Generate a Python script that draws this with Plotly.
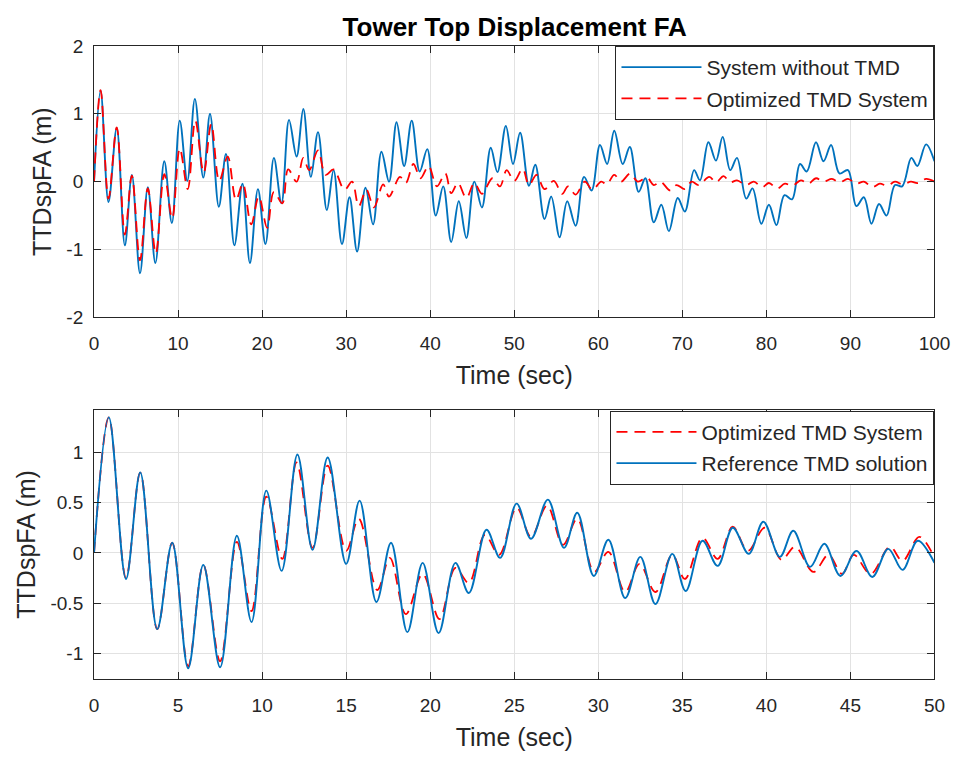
import plotly.graph_objects as go

# ---------------- data (local extrema of each signal) ----------------
top_t_noTMD = [0, 0.78, 1.72, 2.70, 3.67, 4.50, 5.47, 6.40, 7.30, 8.36, 9.26, 10.2, 11.1, 12.0, 13.0, 13.8,
               14.85, 15.7, 16.7, 17.66, 18.55, 19.5, 20.4, 21.4, 22.3, 23.2, 24.1, 24.9, 25.8, 26.65, 27.7,
               28.5, 29.5, 30.4, 31.3, 32.3, 33.2, 34.2, 35.1, 36.0, 36.9, 37.8, 38.75, 39.65, 40.66, 41.55,
               42.5, 43.4, 44.3, 45.25, 46.15, 47.2, 48.0, 49.0, 49.85, 50.7, 51.75, 52.5, 53.6, 54.4, 55.4,
               56.3, 57.3, 58.3, 59.2, 60.2, 61.05, 61.9, 62.9, 63.75, 64.8, 65.6, 66.6, 67.5, 68.4, 69.45,
               70.3, 71.4, 72.1, 73.1, 74.0, 74.8, 75.7, 76.5, 77.6, 78.35, 79.4, 80.3, 81.2, 82.15, 83.05,
               84.0, 84.8, 85.9, 86.8, 87.7, 88.7, 89.7, 90.7, 91.6, 92.5, 93.4, 94.3, 95.3, 96.15, 97.25,
               97.96, 99.0, 100]
top_y_noTMD = [0.0, 1.34, -0.30, 0.79, -0.94, 0.10, -1.35, -0.08, -1.20, 0.30, -0.61, 0.90, 0.01, 1.22, 0.06, 1.00,
               -0.37, 0.41, -0.94, -0.03, -1.20, -0.11, -0.92, 0.35, -0.32, 0.91, 0.37, 1.07, 0.07, 0.73, -0.42,
               0.17, -0.92, -0.23, -1.03, -0.09, -0.63, 0.44, 0.00, 0.875, 0.23, 0.90, 0.15, 0.48, -0.50, -0.07,
               -0.89, -0.29, -0.83, 0.00, -0.38, 0.50, 0.14, 0.82, 0.26, 0.72, -0.06, 0.25, -0.55, -0.22, -0.82,
               -0.29, -0.65, 0.07, -0.13, 0.54, 0.26, 0.75, 0.26, 0.51, -0.15, 0.05, -0.60, -0.34, -0.73, -0.24,
               -0.44, 0.17, 0.02, 0.58, 0.31, 0.66, 0.17, 0.35, -0.25, -0.10, -0.62, -0.34, -0.64, -0.20, -0.26,
               0.26, 0.15, 0.58, 0.30, 0.54, 0.12, 0.17, -0.36, -0.23, -0.62, -0.33, -0.50, -0.05, -0.07, 0.35,
               0.23, 0.55, 0.30]

top_t_opt = [0, 0.78, 1.72, 2.70, 3.67, 4.50, 5.47, 6.40, 7.35, 8.36, 9.3, 10.2, 11.15, 12.05, 13.05, 13.95,
             14.9, 15.9, 16.9, 17.7, 18.7, 19.6, 20.6, 21.4, 22.4, 23.1, 24.1, 24.9, 25.6, 26.65, 27.55, 28.5,
             29.8, 30.7, 31.5, 32.4, 33.3, 34.4, 35.1, 36.4, 37.1, 38.0, 38.85, 39.8, 40.8, 41.8, 42.5, 43.3,
             44.3, 45.25, 46.15, 47.4, 48.3, 49.1, 50.0, 51.0, 51.75, 52.65, 53.6, 54.7, 55.7, 56.4, 57.3,
             58.4, 59.3, 60.35, 61.0, 61.9, 62.7, 63.8, 64.7, 65.8, 66.6, 67.4, 68.55, 69.3, 70.3, 71.1,
             71.95, 73.2, 74.0, 74.9, 75.7, 76.5, 77.6, 78.5, 79.5, 80.3, 81.3, 82.2, 83.1, 84.1, 85.0, 85.9,
             86.8, 87.8, 88.7, 89.7, 90.7, 91.6, 92.6, 93.5, 94.4, 95.3, 96.2, 97.2, 98.0, 99.0, 100]
top_y_opt = [0.0, 1.35, -0.25, 0.80, -0.78, 0.09, -1.16, -0.10, -1.06, 0.11, -0.54, 0.49, -0.11, 0.90, 0.13, 0.85,
             0.01, 0.37, -0.27, -0.03, -0.63, -0.22, -0.68, -0.15, -0.32, 0.18, 0.00, 0.35, 0.17, 0.46, 0.10, 0.18,
             -0.12, 0.00, -0.36, -0.12, -0.38, -0.04, -0.22, 0.07, -0.02, 0.26, 0.05, 0.23, -0.07, 0.12, -0.17, -0.02,
             -0.24, -0.02, -0.18, 0.05, -0.07, 0.17, 0.01, 0.19, -0.05, 0.10, -0.11, 0.01, -0.18, -0.07, -0.19,
             0.00, -0.12, 0.00, -0.04, 0.10, 0.00, 0.12, 0.00, 0.06, -0.05, 0.00, -0.13, -0.05, -0.11, 0.00,
             -0.05, 0.07, -0.01, 0.08, -0.01, 0.02, -0.05, 0.00, -0.08, -0.02, -0.10, -0.03, -0.06, 0.02, -0.03, 0.05,
             0.00, 0.04, -0.01, 0.04, -0.03, 0.00, -0.08, -0.03, -0.06, 0.00, -0.04, 0.00, -0.02, 0.04, 0.00]

bot_t_ref = [0, 0.88, 1.9, 2.75, 3.76, 4.65, 5.6, 6.5, 7.5, 8.5, 9.37, 10.25, 11.16, 12.1, 13.0, 13.9, 15.0,
             15.8, 16.8, 17.67, 18.64, 19.55, 20.5, 21.5, 22.3, 23.35, 24.16, 25.14, 26.0, 27.0, 27.96, 28.75,
             29.73, 30.6, 31.6, 32.5, 33.4, 34.4, 35.2, 36.2, 37.1, 38.0, 38.95, 39.82, 40.8, 41.6, 42.6, 43.45,
             44.4, 45.36, 46.3, 47.25, 48.1, 49.0, 50]
bot_y_ref = [0.0, 1.35, -0.26, 0.80, -0.76, 0.10, -1.15, -0.12, -1.14, 0.17, -0.69, 0.62, -0.18, 0.98, 0.03, 0.95, -0.11,
             0.52, -0.49, 0.10, -0.79, -0.10, -0.80, -0.10, -0.40, 0.23, -0.05, 0.49, 0.14, 0.53, 0.05, 0.40,
             -0.23, 0.13, -0.45, -0.04, -0.51, -0.01, -0.38, 0.12, -0.13, 0.25, -0.01, 0.31, -0.04, 0.22, -0.14, 0.09,
             -0.23, 0.02, -0.24, 0.04, -0.17, 0.12, -0.10]

bot_t_opt = [0, 0.88, 1.9, 2.75, 3.76, 4.65, 5.6, 6.5, 7.5, 8.5, 9.37, 10.25, 11.2, 12.05, 13.0, 13.9, 15.0,
             15.75, 16.85, 17.6, 18.55, 19.55, 20.55, 21.5, 22.3, 23.25, 24.1, 25.14, 26.0, 26.95, 27.9, 28.75,
             29.75, 30.6, 31.6, 32.45, 33.4, 34.4, 35.15, 36.2, 37.1, 38.0, 38.9, 39.9, 40.9, 41.7, 42.8, 43.7,
             44.5, 45.2, 46.2, 47.35, 48.1, 49.1, 50]
bot_y_opt = [0.0, 1.35, -0.25, 0.80, -0.76, 0.10, -1.13, -0.12, -1.08, 0.11, -0.58, 0.56, -0.06, 0.90, 0.05, 0.87, 0.02,
             0.34, -0.37, -0.05, -0.61, -0.21, -0.66, -0.15, -0.30, 0.18, -0.02, 0.45, 0.16, 0.47, 0.08, 0.34,
             -0.19, 0.01, -0.39, -0.11, -0.39, -0.02, -0.26, 0.15, -0.06, 0.26, 0.02, 0.25, -0.07, 0.06, -0.19, -0.02,
             -0.21, -0.02, -0.21, 0.06, -0.08, 0.16, -0.05]

top_xticks = [0, 10, 20, 30, 40, 50, 60, 70, 80, 90, 100]
top_yticks = [-2, -1, 0, 1, 2]
top_yticklabels = ["-2", "-1", "0", "1", "2"]
bot_xticks = [0, 5, 10, 15, 20, 25, 30, 35, 40, 45, 50]
bot_yticks = [-1, -0.5, 0, 0.5, 1]
bot_yticklabels = ["-1", "-0.5", "0", "0.5", "1"]

title_text = "Tower Top Displacement FA"
xlabel = "Time (sec)"
ylabel = "TTDspFA (m)"

# ---------------- styling ----------------
W, H = 972, 765
FONT = "Liberation Sans, Arial, Helvetica, sans-serif"
TXT = "#262626"
BLUE = "#0072BD"
RED = "#FF0000"
GRID = "#e2e2e2"
DASH = "11px,7px"


def px_x(p):
    return p / W


def px_y(p):
    return 1 - p / H


fig = go.Figure()
fig.add_trace(go.Scatter(x=top_t_noTMD, y=top_y_noTMD, mode="lines", name="System without TMD",
                         line=dict(color=BLUE, width=1.9, shape="spline", smoothing=1.0),
                         xaxis="x", yaxis="y", legend="legend", legendgroup="a"))
fig.add_trace(go.Scatter(x=top_t_opt, y=top_y_opt, mode="lines", name="Optimized TMD System",
                         line=dict(color=RED, width=1.8, dash=DASH, shape="spline", smoothing=1.0),
                         xaxis="x", yaxis="y", legend="legend", legendgroup="b"))
fig.add_trace(go.Scatter(x=bot_t_opt, y=bot_y_opt, mode="lines", name="Optimized TMD System",
                         line=dict(color=RED, width=1.8, dash=DASH, shape="spline", smoothing=1.0),
                         xaxis="x2", yaxis="y2", legend="legend2", legendgroup="c"))
fig.add_trace(go.Scatter(x=bot_t_ref, y=bot_y_ref, mode="lines", name="Reference TMD solution",
                         line=dict(color=BLUE, width=1.9, shape="spline", smoothing=1.0),
                         xaxis="x2", yaxis="y2", legend="legend2", legendgroup="d"))

axis_common = dict(showline=True, linecolor=TXT, linewidth=1, mirror="ticks", ticks="inside",
                   ticklen=7, tickcolor=TXT, showgrid=True, gridcolor=GRID, gridwidth=1,
                   zeroline=False, tickfont=dict(family=FONT, size=19, color=TXT))

LABEL_FONT = dict(family=FONT, size=25, color=TXT)
xd = [px_x(91), px_x(950)]
leg_common = dict(xanchor="right", yanchor="top", bgcolor="white", bordercolor=TXT, borderwidth=1,
                  font=dict(family=FONT, size=21, color=TXT), itemwidth=80, tracegroupgap=1)

fig.update_layout(
    width=W, height=H, autosize=False,
    margin=dict(l=0, r=0, t=0, b=0),
    paper_bgcolor="white", plot_bgcolor="white",
    font=dict(family=FONT, color=TXT),
    title=dict(text="<b>" + title_text + "</b>", x=px_x(521), xanchor="center", xref="paper",
               y=px_y(17), yanchor="middle", yref="paper",
               font=dict(family=FONT, size=26, color="#000000")),
    xaxis=dict(domain=xd, anchor="y", range=[0, 100], tickvals=top_xticks, ticklabelstandoff=9,
               title=dict(text=xlabel, font=LABEL_FONT, standoff=13), **axis_common),
    yaxis=dict(domain=[px_y(316), px_y(37)], anchor="x", range=[-2, 2], tickvals=top_yticks,
               ticktext=top_yticklabels, ticklabelstandoff=6,
               title=dict(text=ylabel, font=LABEL_FONT, standoff=7), **axis_common),
    xaxis2=dict(domain=xd, anchor="y2", range=[0, 50], tickvals=bot_xticks, ticklabelstandoff=9,
                title=dict(text=xlabel, font=LABEL_FONT, standoff=13), **axis_common),
    yaxis2=dict(domain=[px_y(688), px_y(411)], anchor="x2", range=[-1.258, 1.426], tickvals=bot_yticks,
                ticktext=bot_yticklabels, ticklabelstandoff=6,
                title=dict(text=ylabel, font=LABEL_FONT, standoff=7), **axis_common),
    legend=dict(x=px_x(950), y=px_y(37), **leg_common),
    legend2=dict(x=px_x(950), y=px_y(412), **leg_common),
    showlegend=True,
)

fig.write_html("out.html")
